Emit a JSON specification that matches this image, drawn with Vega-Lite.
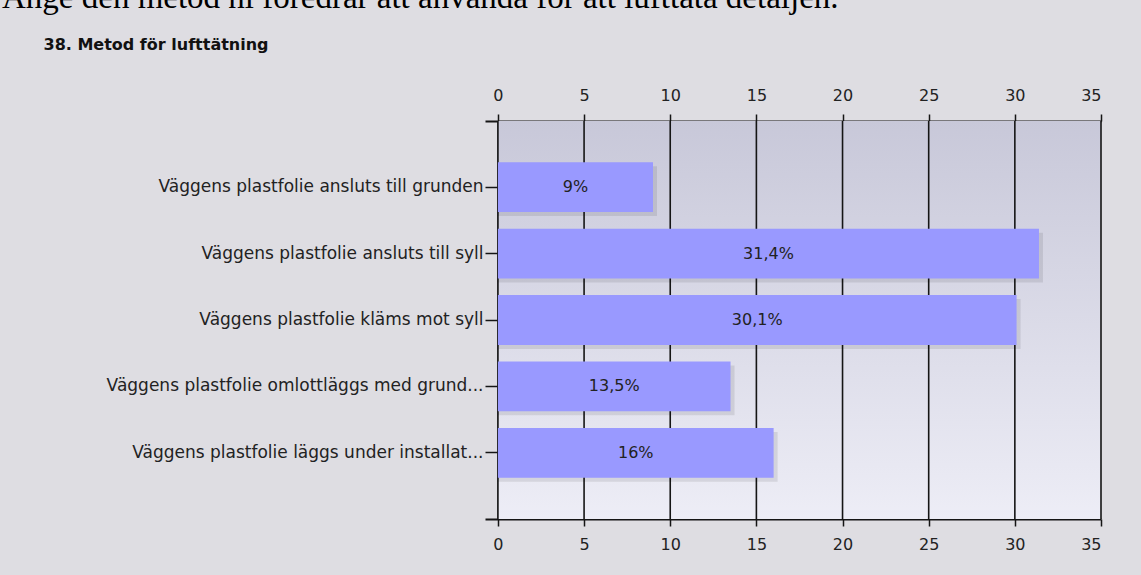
{
  "$schema": "https://vega.github.io/schema/vega-lite/v6.json",
  "width": 616,
  "height": 398,
  "autosize": {"type": "none"},
  "padding": {"left": 485, "top": 121, "right": 40, "bottom": 56},
  "background": "#dedde2",
  "title": {
    "text": "Ange den metod ni föredrar att använda för att lufttäta detaljen.",
    "font": "Liberation Serif",
    "fontSize": 33,
    "fontWeight": "normal",
    "color": "#000000",
    "anchor": "start",
    "frame": "group",
    "baseline": "alphabetic",
    "dx": -483,
    "dy": 9
  },
  "config": {"view": {"stroke": null}, "font": "DejaVu Sans"},
  "datasets": {
    "answers": [
      {"cat": "Väggens plastfolie ansluts till grunden", "v": 9, "label": "9%"},
      {"cat": "Väggens plastfolie ansluts till syll", "v": 31.4, "label": "31,4%"},
      {"cat": "Väggens plastfolie kläms mot syll", "v": 30.1, "label": "30,1%"},
      {"cat": "Väggens plastfolie omlottläggs med grund...", "v": 13.5, "label": "13,5%"},
      {"cat": "Väggens plastfolie läggs under installat...", "v": 16, "label": "16%"}
    ],
    "ticks": [{"t": 0}, {"t": 5}, {"t": 10}, {"t": 15}, {"t": 20}, {"t": 25}, {"t": 30}, {"t": 35}]
  },
  "resolve": {"axis": {"x": "independent", "y": "independent"}},
  "layer": [
    {
      "data": {"name": "ticks"},
      "transform": [{"filter": "datum.t == 0"}],
      "mark": {
        "type": "rect",
        "color": {
          "gradient": "linear", "x1": 0, "y1": 0, "x2": 0, "y2": 1,
          "stops": [{"offset": 0, "color": "#c8c8d9"}, {"offset": 1, "color": "#ededf6"}]
        }
      },
      "encoding": {
        "x": {"datum": 0, "type": "quantitative", "scale": {"domain": [-0.75, 35], "nice": false, "zero": false}, "axis": null},
        "x2": {"datum": 35}
      }
    },
    {
      "data": {"name": "ticks"},
      "mark": {"type": "rule", "color": "#151515", "strokeWidth": 1.6},
      "encoding": {
        "x": {
          "field": "t", "type": "quantitative",
          "scale": {"domain": [-0.75, 35], "nice": false, "zero": false},
          "axis": {
            "orient": "top", "values": [0, 5, 10, 15, 20, 25, 30, 35], "format": "d", "title": null,
            "grid": false, "domain": true, "domainColor": "#151515", "domainWidth": 2,
            "ticks": true, "tickColor": "#151515", "tickWidth": 1.5, "tickSize": 7,
            "labelFont": "DejaVu Sans", "labelFontSize": 16, "labelColor": "#222222", "labelPadding": 11
          }
        }
      }
    },
    {
      "data": {"name": "answers"},
      "mark": {"type": "bar", "color": "#000000", "opacity": 0.09, "xOffset": 4, "yOffset": 4},
      "encoding": {
        "y": {"field": "cat", "type": "nominal", "sort": null, "scale": {"paddingInner": 0.25, "paddingOuter": 0.62}, "axis": null},
        "x": {"field": "v", "type": "quantitative", "scale": {"domain": [-0.75, 35], "nice": false, "zero": false}, "axis": null},
        "x2": {"datum": 0}
      }
    },
    {
      "data": {"name": "answers"},
      "mark": {"type": "bar", "color": "#9999ff"},
      "encoding": {
        "y": {
          "field": "cat", "type": "nominal", "sort": null,
          "scale": {"paddingInner": 0.25, "paddingOuter": 0.62},
          "axis": {
            "orient": "left", "offset": -13,
            "domain": true, "domainColor": "#151515", "domainWidth": 2,
            "ticks": true, "tickColor": "#151515", "tickWidth": 1.5, "tickSize": 13,
            "labelFont": "DejaVu Sans", "labelFontSize": 17, "labelColor": "#222222", "labelPadding": 2, "labelLimit": 0,
            "title": "38. Metod för lufttätning", "titleAngle": 0, "titleX": -455, "titleY": -72,
            "titleAlign": "left", "titleBaseline": "alphabetic",
            "titleFont": "DejaVu Sans", "titleFontSize": 16, "titleFontWeight": "bold", "titleColor": "#111111"
          }
        },
        "x": {
          "field": "v", "type": "quantitative",
          "scale": {"domain": [-0.75, 35], "nice": false, "zero": false},
          "axis": {
            "orient": "bottom", "values": [0, 5, 10, 15, 20, 25, 30, 35], "format": "d", "title": null,
            "grid": false, "domain": true, "domainColor": "#151515", "domainWidth": 2,
            "ticks": true, "tickColor": "#151515", "tickWidth": 1.5, "tickSize": 7,
            "labelFont": "DejaVu Sans", "labelFontSize": 16, "labelColor": "#222222", "labelPadding": 10
          }
        },
        "x2": {"datum": 0}
      }
    },
    {
      "data": {"name": "answers"},
      "transform": [{"calculate": "datum.v / 2", "as": "mid"}],
      "mark": {"type": "text", "font": "DejaVu Sans", "fontSize": 16, "color": "#222222", "align": "center", "baseline": "middle"},
      "encoding": {
        "y": {"field": "cat", "type": "nominal", "sort": null, "scale": {"paddingInner": 0.25, "paddingOuter": 0.62}, "axis": null},
        "x": {"field": "mid", "type": "quantitative", "scale": {"domain": [-0.75, 35], "nice": false, "zero": false}, "axis": null},
        "text": {"field": "label"}
      }
    }
  ]
}
